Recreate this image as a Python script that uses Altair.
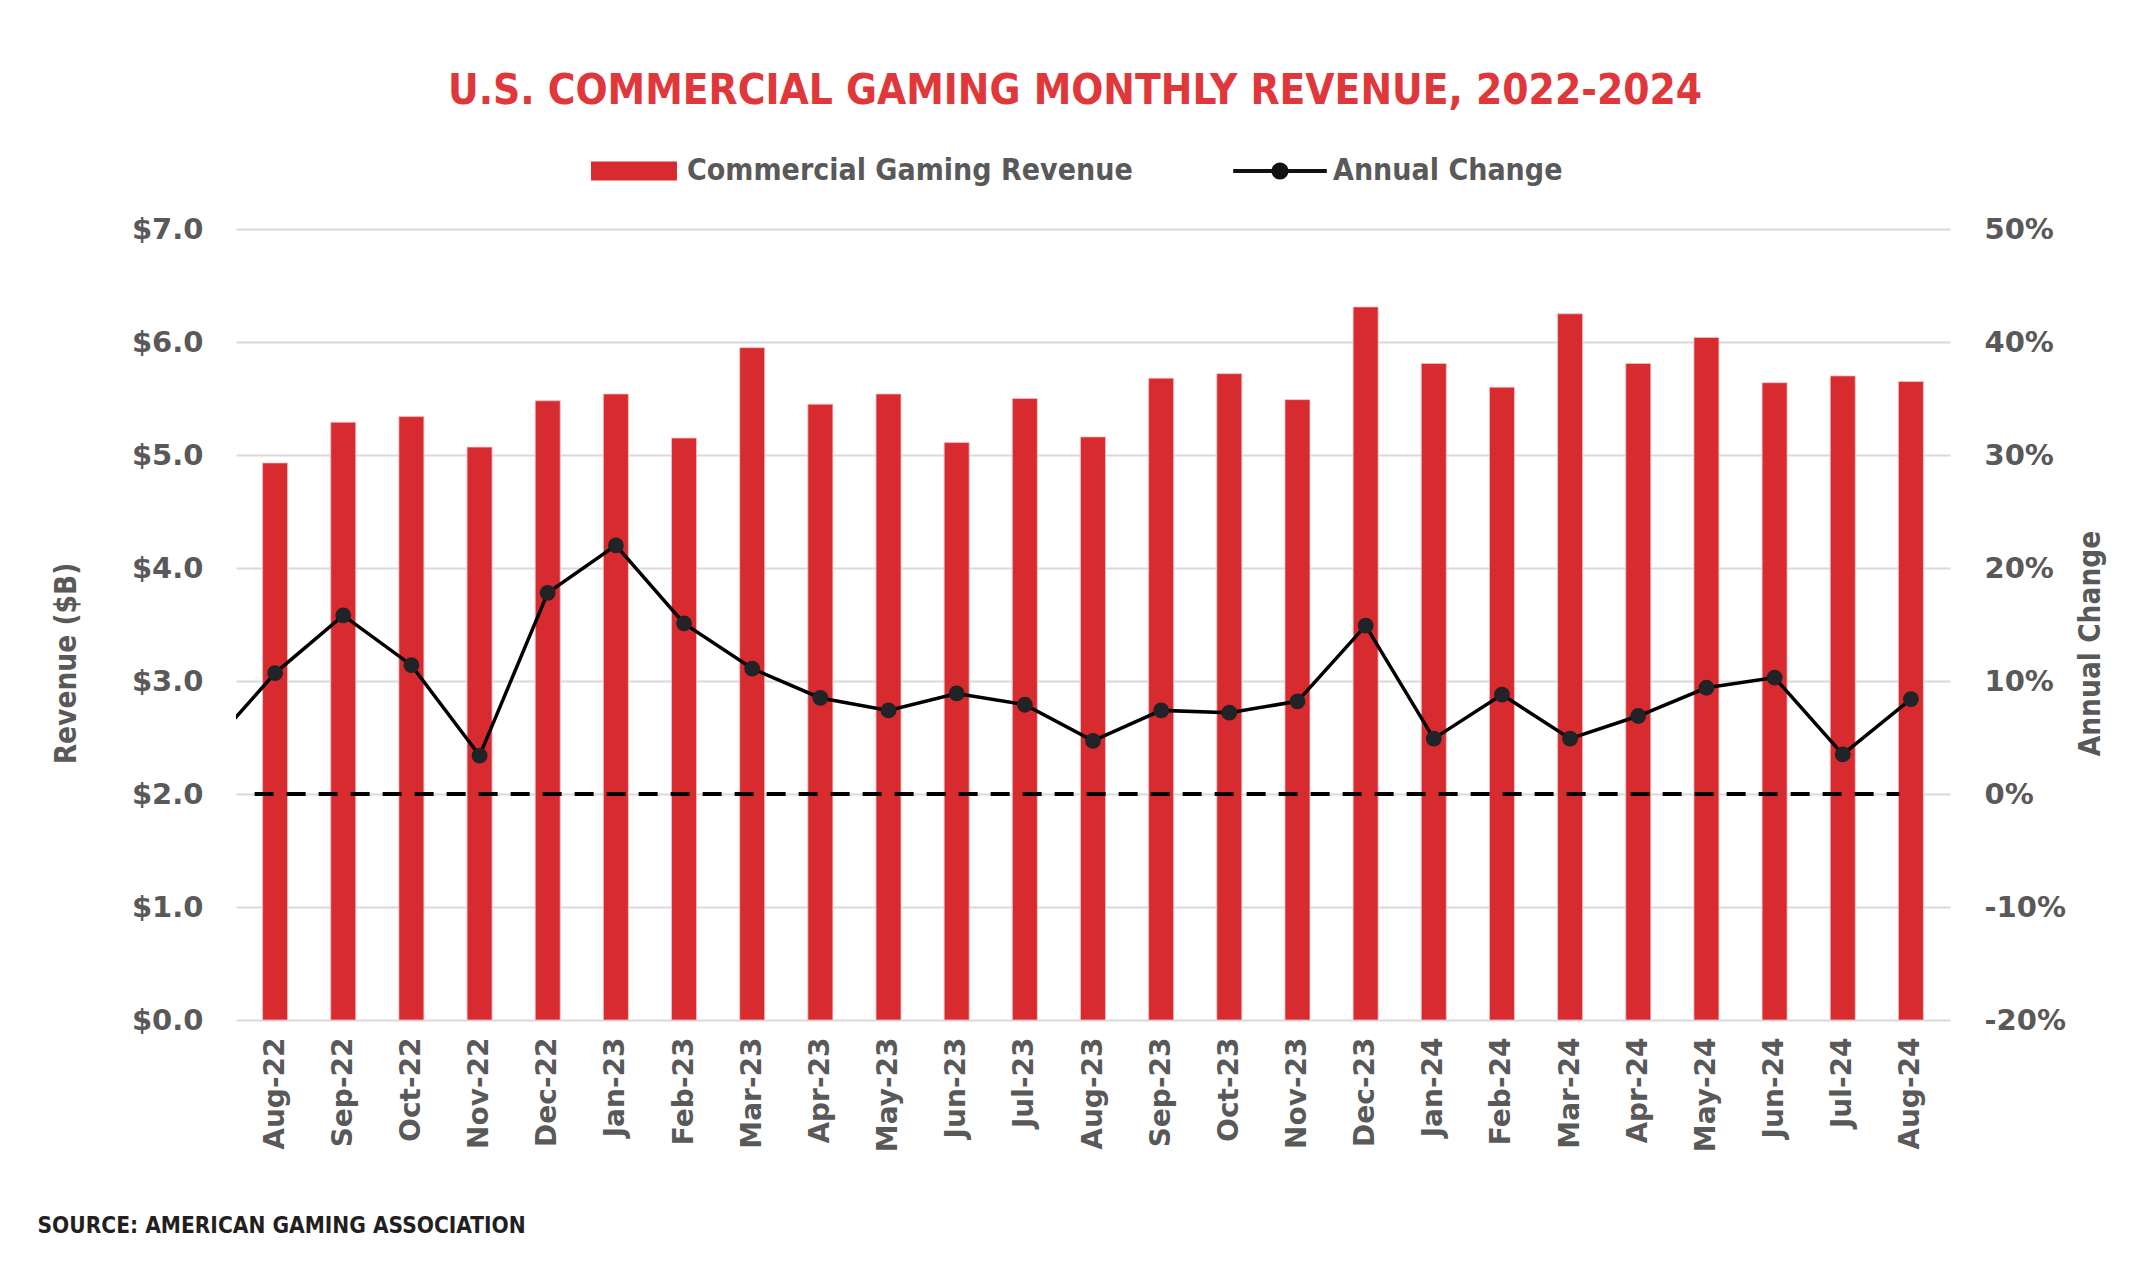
import json
import altair as alt
import pandas as pd

# ---------------- data ----------------
months = ["Aug-22", "Sep-22", "Oct-22", "Nov-22", "Dec-22", "Jan-23", "Feb-23", "Mar-23",
          "Apr-23", "May-23", "Jun-23", "Jul-23", "Aug-23", "Sep-23", "Oct-23", "Nov-23",
          "Dec-23", "Jan-24", "Feb-24", "Mar-24", "Apr-24", "May-24", "Jun-24", "Jul-24", "Aug-24"]
revenue = [4.93, 5.29, 5.34, 5.07, 5.48, 5.54, 5.15, 5.95, 5.45, 5.54, 5.11, 5.50, 5.16,
           5.68, 5.72, 5.49, 6.31, 5.81, 5.60, 6.25, 5.81, 6.04, 5.64, 5.70, 5.65]
annual_change = [0.107, 0.158, 0.114, 0.034, 0.178, 0.220, 0.151, 0.111, 0.085, 0.074, 0.089,
                 0.079, 0.047, 0.074, 0.072, 0.082, 0.149, 0.049, 0.088, 0.049, 0.069, 0.094,
                 0.103, 0.035, 0.084]
# month before the window (line enters from the left edge)
prior_month = "Jul-22"
prior_change = 0.039

series_names = ["Commercial Gaming Revenue", "Annual Change"]
rev_ticks = [0, 1, 2, 3, 4, 5, 6, 7]
pct_ticks = [-0.2, -0.1, 0.0, 0.1, 0.2, 0.3, 0.4, 0.5]

# ---------------- tables ----------------
idx = list(range(len(months)))
bars_df = pd.DataFrame({"i": idx, "month": months, "revenue": revenue})
line_df = pd.DataFrame({"i": [-1] + idx, "month": [prior_month] + months,
                        "change": [prior_change] + annual_change})
pts_df = pd.DataFrame({"i": idx, "month": months, "change": annual_change})
legend_df = pd.DataFrame({"series": series_names})
zero_df = pd.DataFrame({"start": [-0.3], "end": [23.83], "level": [0.0]})

# ---------------- style ----------------
RED = "#D72B30"
TITLE_RED = "#E0373B"
GRAY = "#595959"
COND = "'Liberation Sans Narrow', 'DejaVu Sans Condensed', 'Arial Narrow', sans-serif"
WIDE = "'DejaVu Sans', Verdana, sans-serif"

label_expr = json.dumps(months) + "[datum.value]"
pct_expr = "replace(format(datum.value, '.0%'), '\u2212', '-')"

x_enc = alt.X(
    "i:Q",
    scale=alt.Scale(domain=[-0.5, len(months) - 0.5], nice=False, zero=False),
    axis=alt.Axis(
        values=idx, labelExpr=label_expr, labelAngle=270, labelAlign="right",
        labelBaseline="middle", labelPadding=17, labelFont=WIDE, labelFontWeight="bold",
        labelFontSize=28, labelColor=GRAY, ticks=False, domain=False, grid=False,
        title="SOURCE: AMERICAN GAMING ASSOCIATION", titleFont=COND, titleFontSize=22.5,
        titleFontWeight="bold", titleColor="#231F20", titleAlign="left",
        titleBaseline="middle", titleAngle=0, titleX=-199, titleY=205,
    ),
)

bars = alt.Chart(bars_df).mark_bar(size=25, color=RED, stroke="#F3C2C3", strokeWidth=0.8).encode(
    x=x_enc,
    y=alt.Y(
        "revenue:Q",
        scale=alt.Scale(domain=[0, 7], nice=False),
        axis=alt.Axis(
            orient="left", values=rev_ticks, format="$.1f", labelFont=WIDE,
            labelFontWeight="bold", labelFontSize=29, labelColor=GRAY, labelPadding=33,
            ticks=False, domain=False, grid=True, gridColor="#D9D9D9", gridWidth=2,
            title="Revenue ($B)", titleFont=COND, titleFontSize=29.5, titleFontWeight="bold",
            titleColor=GRAY, titleAngle=270, titleAlign="center", titleBaseline="middle",
            titleX=-170, titleY=434,
        ),
    ),
)

pct_scale = alt.Scale(domain=[-0.2, 0.5], nice=False, zero=False)

zero_rule = alt.Chart(zero_df).mark_rule(color="#000000", strokeWidth=4, strokeDash=[19, 13]).encode(
    x="start:Q", x2="end:Q",
    y=alt.Y(
        "level:Q", scale=pct_scale,
        axis=alt.Axis(
            orient="right", values=pct_ticks, labelExpr=pct_expr, labelFont=WIDE,
            labelFontWeight="bold", labelFontSize=29, labelColor=GRAY, labelPadding=34,
            labelAlign="left", ticks=False, domain=False, grid=False,
            title="Annual Change", titleFont=COND, titleFontSize=29.5, titleFontWeight="bold",
            titleColor=GRAY, titleAngle=270, titleAlign="center", titleBaseline="middle",
            titleX=140, titleY=414,
        ),
    ),
)

line = alt.Chart(line_df).mark_line(color="#000000", strokeWidth=3.5, clip=True).encode(
    x="i:Q", y=alt.Y("change:Q", scale=pct_scale),
)

points = alt.Chart(pts_df).mark_circle(size=250, color="#222326", opacity=1).encode(
    x="i:Q", y=alt.Y("change:Q", scale=pct_scale),
)

right_layer = alt.layer(zero_rule, line, points)

rect_path = "M-0.955,-0.211H0.955V0.211H-0.955Z"
line_path = ("M-1.04,-0.044H1.04V0.044H-1.04Z "
             "M0.19,0A0.19,0.19,0,1,1,-0.19,0A0.19,0.19,0,1,1,0.19,0Z")

legend_cfg = alt.Legend(
    title=None, orient="none", legendX=353, legendY=-103, direction="horizontal",
    symbolSize=8100, symbolStrokeWidth=0, symbolOpacity=1, labelFont=COND,
    labelFontSize=30, labelFontWeight="bold", labelColor=GRAY, labelOffset=8,
    columnPadding=100, padding=0, labelLimit=1000,
)

legend_layer = alt.Chart(legend_df).transform_filter("false").mark_point(filled=True, opacity=1).encode(
    color=alt.Color("series:N", scale=alt.Scale(domain=series_names, range=[RED, "#111111"]),
                    legend=legend_cfg),
    shape=alt.Shape("series:N", scale=alt.Scale(domain=series_names, range=[rect_path, line_path]),
                    legend=legend_cfg),
)

chart = (
    alt.layer(bars, right_layer, legend_layer)
    .resolve_scale(y="independent")
    .properties(
        width=1714,
        height=791,
        autosize=alt.AutoSizeParams(type="none"),
        padding={"left": 228, "top": 221, "right": 190, "bottom": 250},
        background="white",
        title=alt.TitleParams(
            text="U.S. COMMERCIAL GAMING MONTHLY REVENUE, 2022-2024",
            font=COND, fontSize=42, fontWeight="bold", color=TITLE_RED,
            anchor="middle", frame="group", dx=-18, dy=40, offset=20, baseline="alphabetic",
        ),
    )
    .configure_view(stroke=None)
)

chart.save("out.html", embed_options={"renderer": "svg", "actions": False})
